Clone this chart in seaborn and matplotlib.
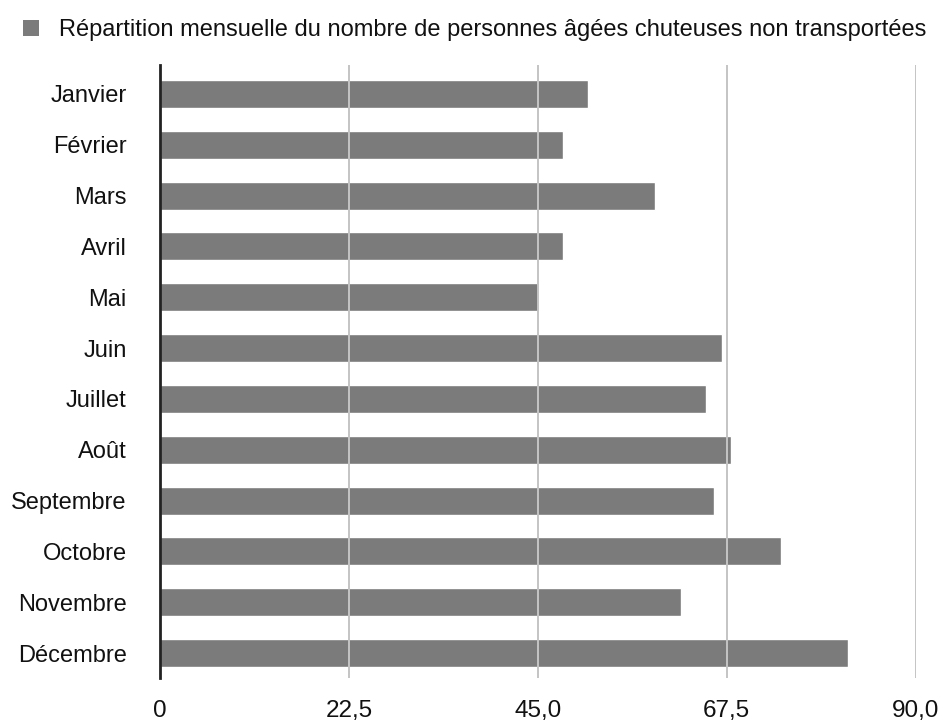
import matplotlib
matplotlib.use('Agg')
import matplotlib.pyplot as plt
import seaborn as sns
import pandas as pd
from matplotlib.patches import Patch

# Data
months = ['Janvier', 'Février', 'Mars', 'Avril', 'Mai', 'Juin', 'Juillet',
          'Août', 'Septembre', 'Octobre', 'Novembre', 'Décembre']
values = [51, 48, 59, 48, 45, 67, 65, 68, 66, 74, 62, 82]
x_ticks = [0, 22.5, 45, 67.5, 90]
x_tick_labels = ['0', '22,5', '45,0', '67,5', '90,0']
series_name = 'Répartition mensuelle du nombre de personnes âgées chuteuses non transportées'

df = pd.DataFrame({'mois': months, 'valeur': values})

sns.set_style('white')
plt.rcParams['font.family'] = ['Liberation Sans', 'DejaVu Sans']

bar_color = '#7b7b7b'
text_color = '#111111'

fig = plt.figure(figsize=(9.41, 7.22), dpi=100)
ax = fig.add_axes([0.170, 0.061, 0.803, 0.849])

sns.barplot(data=df, x='valeur', y='mois', orient='h', color=bar_color,
            saturation=1, width=0.55, ax=ax)

ax.set_xlim(0, 90)
ax.set_ylim(11.49, -0.57)
ax.set_xticks(x_ticks)
ax.set_xticklabels(x_tick_labels)
ax.set_xlabel('')
ax.set_ylabel('')

# grid drawn over the bars, as in the original
ax.set_axisbelow(False)
ax.xaxis.grid(True, color='#c4c4c4', linewidth=1.4)
ax.yaxis.grid(False)

for side in ['top', 'right', 'bottom']:
    ax.spines[side].set_visible(False)
ax.spines['left'].set_color('#222222')
ax.spines['left'].set_linewidth(2)
ax.spines['left'].set_zorder(5)

ax.tick_params(axis='x', length=0, pad=16, labelsize=17.5, labelcolor=text_color)
ax.tick_params(axis='y', length=0, pad=24, labelsize=17, labelcolor=text_color)

fig.legend(handles=[Patch(facecolor=bar_color, edgecolor='none')],
           labels=[series_name], loc='center left',
           bbox_to_anchor=(23 / 941, 1 - 30 / 722), frameon=False,
           borderpad=0, borderaxespad=0, handlelength=0.68, handleheight=0.68,
           handletextpad=0.85, fontsize=17, labelcolor=text_color)

fig.savefig('out.png', dpi=100)
